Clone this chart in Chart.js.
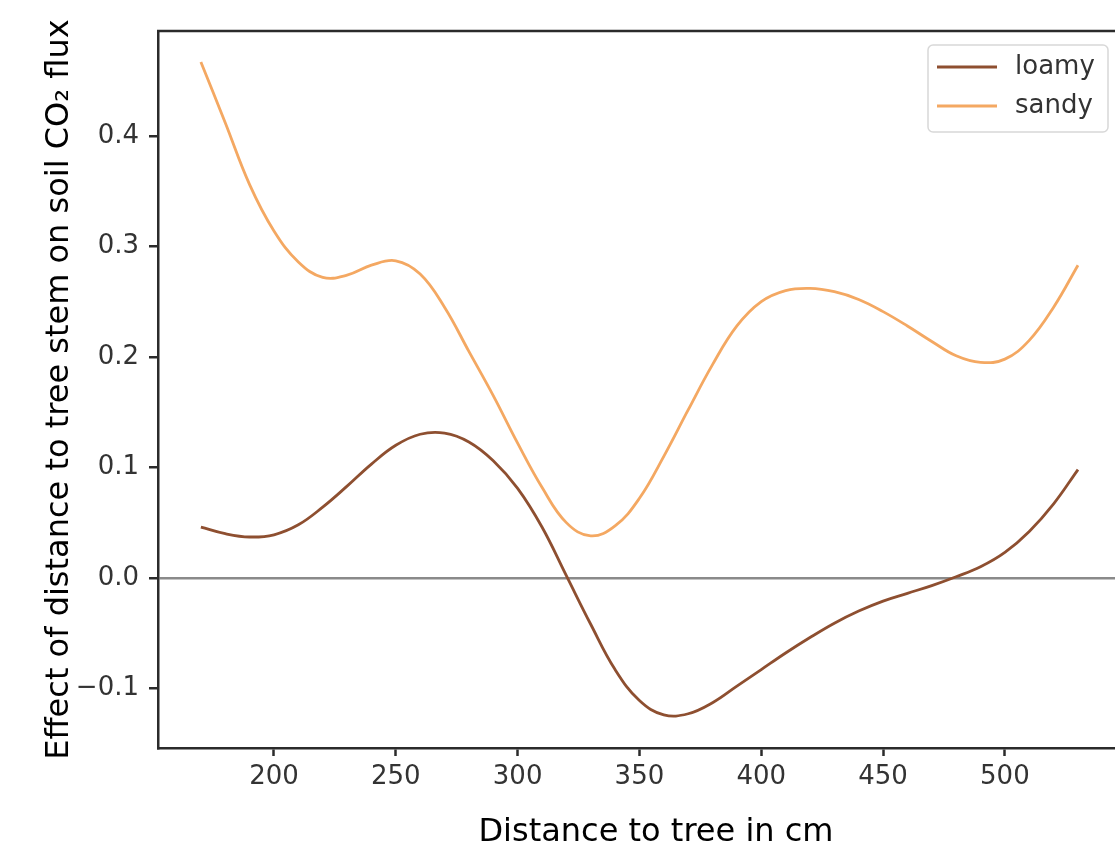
<!DOCTYPE html>
<html>
<head>
<meta charset="utf-8">
<script src="https://cdn.jsdelivr.net/npm/chart.js@4.4.1/dist/chart.umd.min.js"></script>
<style>
  html, body { margin: 0; padding: 0; background: #fff; overflow: hidden; }
  #wrap { width: 1155px; height: 855px; }
</style>
</head>
<body>
<div id="wrap"><canvas id="effectChart" width="1155" height="855"></canvas></div>
<script>
// distance to tree (cm) and fitted effect per soil type
const distanceCm = [170, 180, 190, 200, 210, 220, 230, 240, 250, 260, 270, 280, 290, 300, 310, 320, 330, 340, 350, 360, 370, 380, 390, 400, 410, 420, 430, 440, 450, 460, 470, 480, 490, 500, 510, 520, 530];

const loamyEffect = [0.046, 0.040, 0.037, 0.039, 0.048, 0.064, 0.083, 0.103, 0.120, 0.130, 0.131, 0.123, 0.106, 0.081, 0.046, 0.002, -0.042, -0.083, -0.111, -0.124, -0.123, -0.113, -0.098, -0.083, -0.068, -0.054, -0.041, -0.030, -0.021, -0.014, -0.007, 0.001, 0.010, 0.023, 0.042, 0.067, 0.098];

const sandyEffect = [0.467, 0.412, 0.356, 0.314, 0.286, 0.272, 0.274, 0.283, 0.287, 0.275, 0.245, 0.205, 0.165, 0.122, 0.082, 0.050, 0.038, 0.047, 0.072, 0.110, 0.152, 0.193, 0.228, 0.250, 0.260, 0.262, 0.259, 0.252, 0.241, 0.228, 0.214, 0.201, 0.195, 0.198, 0.215, 0.245, 0.283];

const xTickValues = [200, 250, 300, 350, 400, 450, 500];
const yTickValues = [-0.1, 0.0, 0.1, 0.2, 0.3, 0.4];

const LOAMY_COLOR = "#8e4f30";
const SANDY_COLOR = "#f4a862";
const AXIS_COLOR = "#2b2b2b";
const LABEL_COLOR = "#333333";

Chart.defaults.font.family = "'DejaVu Sans', sans-serif";
Chart.defaults.color = LABEL_COLOR;

const toPoints = (values) => distanceCm.map((x, i) => ({ x, y: values[i] }));

const formatY = (v) => {
  const s = Math.abs(v).toFixed(1);
  return v < -1e-9 ? "\u2212" + s : s;
};

// top (and right) spine, drawn over the lines like matplotlib does
const framePlugin = {
  id: "frame",
  afterDatasetsDraw(chart) {
    const { ctx, chartArea } = chart;
    ctx.save();
    ctx.strokeStyle = AXIS_COLOR;
    ctx.lineWidth = 2.5;
    ctx.beginPath();
    ctx.moveTo(chartArea.left - 1, chartArea.top);
    ctx.lineTo(chartArea.right, chartArea.top);
    ctx.lineTo(chartArea.right, chartArea.bottom);
    ctx.stroke();
    ctx.restore();
  },
};

const legendBoxPlugin = {
  id: "legendBox",
  afterDraw(chart) {
    const { ctx, chartArea } = chart;
    const boxW = 180;
    const boxH = 87;
    const x0 = chartArea.right - 46 - boxW;
    const y0 = chartArea.top + 14;
    ctx.save();
    ctx.fillStyle = "rgba(255,255,255,0.85)";
    ctx.strokeStyle = "#d8d8d8";
    ctx.lineWidth = 1.5;
    ctx.beginPath();
    ctx.roundRect(x0, y0, boxW, boxH, 5);
    ctx.fill();
    ctx.stroke();
    chart.data.datasets.forEach((ds, i) => {
      const y = y0 + 22 + i * 39;
      ctx.strokeStyle = ds.borderColor;
      ctx.lineWidth = 3;
      ctx.beginPath();
      ctx.moveTo(x0 + 9, y);
      ctx.lineTo(x0 + 69, y);
      ctx.stroke();
      ctx.fillStyle = LABEL_COLOR;
      ctx.font = "26px 'DejaVu Sans', sans-serif";
      ctx.textBaseline = "middle";
      ctx.fillText(ds.label, x0 + 87, y);
    });
    ctx.restore();
  },
};

const ctx = document.getElementById("effectChart").getContext("2d");

new Chart(ctx, {
  type: "line",
  data: {
    datasets: [
      {
        label: "loamy",
        data: toPoints(loamyEffect),
        borderColor: LOAMY_COLOR,
        borderWidth: 2.8,
        pointRadius: 0,
        fill: false,
        tension: 0.4,
      },
      {
        label: "sandy",
        data: toPoints(sandyEffect),
        borderColor: SANDY_COLOR,
        borderWidth: 2.8,
        pointRadius: 0,
        fill: false,
        tension: 0.4,
      },
    ],
  },
  options: {
    responsive: false,
    animation: false,
    layout: {
      padding: { top: 31, right: 1, bottom: 0, left: 0 },
    },
    scales: {
      x: {
        type: "linear",
        min: 152.4,
        max: 561.2,
        afterBuildTicks: (scale) => {
          scale.ticks = xTickValues.map((value) => ({ value }));
        },
        afterFit: (scale) => {
          scale.height = 107;
        },
        grid: {
          drawOnChartArea: false,
          drawTicks: true,
          tickLength: 8,
          tickColor: AXIS_COLOR,
          tickWidth: 2.5,
        },
        border: { display: true, color: AXIS_COLOR, width: 2.5 },
        ticks: {
          autoSkip: false,
          maxRotation: 0,
          padding: 6,
          color: LABEL_COLOR,
          font: { size: 26 },
          callback: (v) => String(v),
        },
        title: {
          display: true,
          text: "Distance to tree in cm",
          color: "#000",
          font: { size: 32 },
          padding: { top: 0, bottom: 3 },
        },
      },
      y: {
        type: "linear",
        min: -0.154,
        max: 0.495,
        afterBuildTicks: (scale) => {
          scale.ticks = yTickValues.map((value) => ({ value }));
        },
        afterFit: (scale) => {
          scale.width = 158;
        },
        grid: {
          drawOnChartArea: true,
          color: (c) =>
            c.tick && Math.abs(c.tick.value) < 1e-9 ? "#8a8a8a" : "rgba(0,0,0,0)",
          lineWidth: 2.5,
          drawTicks: true,
          tickLength: 9,
          tickColor: AXIS_COLOR,
          tickWidth: 2.5,
        },
        border: { display: true, color: AXIS_COLOR, width: 2.5 },
        ticks: {
          autoSkip: false,
          padding: 10,
          color: LABEL_COLOR,
          font: { size: 26 },
          callback: (v) => formatY(v),
        },
        title: {
          display: true,
          text: "Effect of distance to tree stem on soil CO\u2082 flux",
          color: "#000",
          font: { size: 32 },
          padding: { top: 40, bottom: 0 },
        },
      },
    },
    plugins: {
      legend: { display: false },
      tooltip: { enabled: false },
    },
  },
  plugins: [framePlugin, legendBoxPlugin],
});
</script>
</body>
</html>
